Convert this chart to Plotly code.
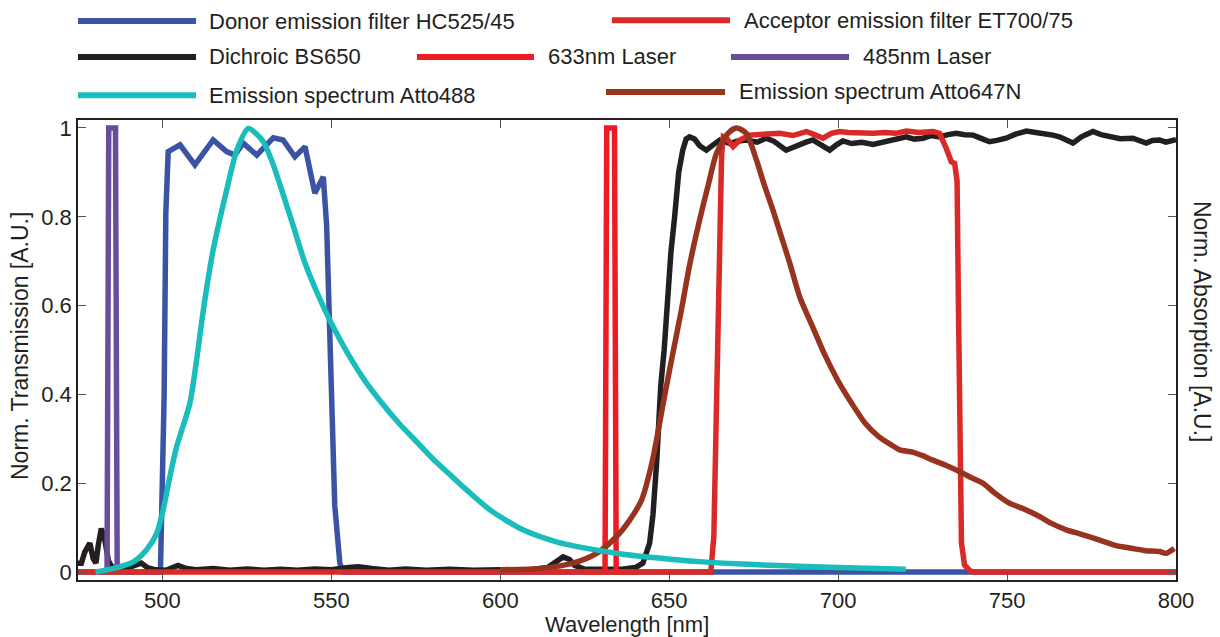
import plotly.graph_objects as go

# ---- spectra (wavelength in nm, normalised values) ----
donor_x = [475, 499.4, 500.5, 501.0, 501.7, 505.2, 509.6, 515.0, 519.0, 521.4, 523.9, 527.9,
           532.8, 535.7, 539.2, 542.2, 545.1, 547.6, 548.6, 549.5, 551.0, 552.5, 553.5, 800]
donor_y = [0, 0, 0.40, 0.81, 0.947, 0.962, 0.917, 0.973, 0.947, 0.939, 0.966, 0.939,
           0.978, 0.973, 0.935, 0.958, 0.853, 0.890, 0.78, 0.50, 0.15, 0.02, 0, 0]

dichroic_x = [475, 476, 477, 478.5, 479.5, 480.3, 481, 481.9, 483, 484, 485, 487, 490, 492, 493.7,
              495.5, 498, 501, 503, 504.6, 507, 510, 515, 520, 525, 530, 535, 540, 545, 550, 555,
              558, 562, 567, 572, 578, 585, 592, 600, 608, 614, 616, 618.6, 620.5, 622, 625, 630,
              636, 640, 642.2, 644.2, 645.2, 646.3, 647.5, 648.5, 649.5, 650.5, 651.6, 652.8, 654,
              655, 656, 657.5, 659, 661, 663, 665, 668, 670, 672.8, 676, 678.7, 681, 684.6, 686,
              688.6, 690.5, 692.5, 695, 697.5, 699.5, 701.4, 704, 707, 710.3, 714.2, 717, 720.2,
              722.5, 725.1, 727.5, 730, 732.5, 735, 737.5, 740, 742.5, 744.8, 747, 749.7, 752.5,
              755.7, 758.5, 761.6, 763.5, 765.5, 767.5, 769.5, 772, 775.4, 777.8, 780.3, 783.5,
              787.2, 789.2, 791.2, 793, 795.1, 797, 800]
dichroic_y = [0.02, 0.02, 0.045, 0.065, 0.03, 0.02, 0.06, 0.098, 0.07, 0.025, 0.012, 0.008, 0.01,
              0.015, 0.02, 0.01, 0.005, 0.004, 0.01, 0.015, 0.008, 0.005, 0.008, 0.004, 0.007,
              0.004, 0.006, 0.004, 0.007, 0.005, 0.01, 0.012, 0.008, 0.004, 0.007, 0.004, 0.006,
              0.004, 0.005, 0.004, 0.01, 0.022, 0.034, 0.028, 0.015, 0.006, 0.005, 0.006, 0.01,
              0.02, 0.065, 0.13, 0.25, 0.42, 0.50, 0.62, 0.72, 0.80, 0.90, 0.95, 0.975, 0.98,
              0.975, 0.96, 0.95, 0.962, 0.973, 0.965, 0.97, 0.973, 0.968, 0.977, 0.97, 0.95,
              0.955, 0.962, 0.968, 0.973, 0.96, 0.95, 0.962, 0.971, 0.965, 0.968, 0.963, 0.969,
              0.975, 0.98, 0.975, 0.977, 0.983, 0.98, 0.985, 0.988, 0.985, 0.984, 0.976, 0.969,
              0.972, 0.977, 0.986, 0.993, 0.99, 0.988, 0.984, 0.98, 0.972, 0.966, 0.98, 0.992,
              0.985, 0.98, 0.976, 0.977, 0.97, 0.966, 0.972, 0.973, 0.968, 0.974]

acceptor_x = [475, 662.3, 663.2, 664.0, 664.8, 665.5, 666.0, 667.2, 668.9, 670.9, 673.8, 678,
              682.7, 686.6, 688.5, 690.6, 693, 695.5, 698, 700.4, 703, 706, 710.3, 714, 717,
              720.2, 724, 728.1, 730, 732, 733.5, 734.5, 735.2, 735.6, 736.0, 736.5, 737.4, 739,
              740, 800]
acceptor_y = [0, 0, 0.08, 0.35, 0.75, 0.94, 0.98, 0.975, 0.958, 0.973, 0.984, 0.986,
              0.988, 0.983, 0.988, 0.992, 0.985, 0.977, 0.988, 0.992, 0.99, 0.988, 0.988, 0.99,
              0.988, 0.993, 0.99, 0.992, 0.988, 0.954, 0.924, 0.92, 0.88, 0.60, 0.30, 0.065,
              0.016, 0.003, 0, 0]

laser633_x = [625, 631.0, 631.5, 633.8, 634.3, 640]
laser633_y = [0, 0, 1, 1, 0, 0]

laser485_x = [483.6, 484.1, 486.1, 486.6]
laser485_y = [0, 1, 1, 0]

atto488_x = [480.2, 485.5, 491.4, 495.3, 498.3, 500.2, 502.2, 504.2, 508.1, 510.1, 512.1, 515.0,
             519.0, 522.0, 525.4, 529.8, 532.8, 536.7, 538.7, 542, 546, 550, 555, 560, 565, 570,
             575, 580, 585, 590, 596.9, 606.7, 616.6, 626.5, 636.3, 646.2, 656.1, 665.9, 680,
             700, 720]
atto488_y = [0.0, 0.008, 0.023, 0.05, 0.087, 0.14, 0.215, 0.282, 0.38, 0.477, 0.59, 0.725,
             0.86, 0.95, 0.999, 0.97, 0.917, 0.827, 0.78, 0.70, 0.625, 0.56, 0.49, 0.43, 0.38,
             0.335, 0.295, 0.255, 0.22, 0.185, 0.14, 0.095, 0.068, 0.052, 0.04, 0.032, 0.025,
             0.02, 0.015, 0.01, 0.006]

atto647n_x = [599.9, 611.7, 621.5, 628.5, 634.4, 638.3, 641.8, 645, 648.7, 651, 653.6, 656,
              659, 661.5, 664, 667.4, 669.9, 672.8, 675.8, 678, 680.7, 683, 685.7, 688.6, 692,
              696, 700, 704, 708, 712, 716, 718.2, 722, 725, 728, 732, 736, 739, 742.9, 746,
              750.7, 755, 759.6, 763, 767.5, 772, 777.4, 782, 787.2, 791, 795.1, 797, 799.5]
atto647n_y = [0.005, 0.008, 0.02, 0.042, 0.08, 0.117, 0.162, 0.25, 0.40, 0.49, 0.59, 0.69,
              0.793, 0.87, 0.943, 0.988, 1.0, 0.988, 0.928, 0.875, 0.815, 0.76, 0.695, 0.62, 0.56,
              0.49, 0.43, 0.38, 0.335, 0.305, 0.285, 0.275, 0.27, 0.262, 0.252, 0.24, 0.226, 0.214,
              0.20, 0.18, 0.155, 0.142, 0.125, 0.11, 0.095, 0.085, 0.072, 0.06, 0.053, 0.048,
              0.046, 0.042, 0.053]

# ---- styling ----
FONT = "Liberation Sans, Arial, Helvetica, sans-serif"
C_DONOR = "#3A53A4"
C_DICHROIC = "#231F20"
C_ACCEPTOR = "#D92A27"
C_L633 = "#ED1C24"
C_L485 = "#6A4C9C"
C_488 = "#1ABCBC"
C_647 = "#97331F"
LW = 5.5

# (label, x, y, colour, smooth)
series = [
    ("Donor emission filter HC525/45", donor_x, donor_y, C_DONOR, False),
    ("Dichroic BS650", dichroic_x, dichroic_y, C_DICHROIC, False),
    ("485nm Laser", laser485_x, laser485_y, C_L485, False),
    ("633nm Laser", laser633_x, laser633_y, C_L633, False),
    ("Acceptor emission filter ET700/75", acceptor_x, acceptor_y, C_ACCEPTOR, False),
    ("Emission spectrum Atto647N", atto647n_x, atto647n_y, C_647, True),
    ("Emission spectrum Atto488", atto488_x, atto488_y, C_488, True),
]

fig = go.Figure()
for name, xs, ys, col, smooth in series:
    line = dict(color=col, width=LW)
    if smooth:
        line.update(shape="spline", smoothing=0.7)
    fig.add_trace(go.Scatter(x=xs, y=ys, mode="lines", name=name, line=line,
                             showlegend=False))

# ---- legend block above the axes (paper coordinates) ----
legend_items = [
    # (label, colour, line x0, line x1, text x, y)
    ("Donor emission filter HC525/45", C_DONOR, 0.0, 0.1075, 0.1175, 1.215),
    ("Acceptor emission filter ET700/75", C_ACCEPTOR, 0.4863, 0.5938, 0.6047, 1.217),
    ("Dichroic BS650", C_DICHROIC, 0.0, 0.1075, 0.1175, 1.137),
    ("633nm Laser", C_L633, 0.3087, 0.4153, 0.4262, 1.137),
    ("485nm Laser", C_L485, 0.5947, 0.7022, 0.7131, 1.137),
    ("Emission spectrum Atto488", C_488, 0.0, 0.1075, 0.1175, 1.054),
    ("Emission spectrum Atto647N", C_647, 0.4809, 0.5893, 0.6002, 1.061),
]
shapes = []
annotations = []
for label, col, x0, x1, tx, y in legend_items:
    shapes.append(dict(type="line", xref="paper", yref="paper", x0=x0, x1=x1, y0=y, y1=y,
                       line=dict(color=col, width=6)))
    annotations.append(dict(text=label, xref="paper", yref="paper", x=tx, y=y,
                            xanchor="left", yanchor="middle", showarrow=False,
                            font=dict(family=FONT, size=22, color="#231F20")))

# axis titles
annotations.append(dict(text="Wavelength [nm]", xref="paper", yref="paper", x=0.5, y=-0.097,
                        xanchor="center", yanchor="middle", showarrow=False,
                        font=dict(family=FONT, size=22, color="#231F20")))
annotations.append(dict(text="Norm. Transmission [A.U.]", xref="paper", yref="paper",
                        x=-0.0528, y=0.5087, textangle=-90, xanchor="center",
                        yanchor="middle", showarrow=False,
                        font=dict(family=FONT, size=23, color="#231F20")))
annotations.append(dict(text="Norm. Absorption [A.U.]", xref="paper", yref="paper",
                        x=1.0237, y=0.561, textangle=90, xanchor="center",
                        yanchor="middle", showarrow=False,
                        font=dict(family=FONT, size=23, color="#231F20")))

axis_common = dict(showline=True, linecolor="#231F20", linewidth=1.5, mirror="ticks",
                   ticks="inside", ticklen=8, tickwidth=1, tickcolor="#555555",
                   showgrid=False, zeroline=False,
                   tickfont=dict(family=FONT, size=22, color="#231F20"))

fig.update_layout(
    width=1220, height=637,
    margin=dict(l=78, r=44, t=120, b=57),
    paper_bgcolor="white", plot_bgcolor="white",
    xaxis=dict(range=[475, 800], tickvals=[500, 550, 600, 650, 700, 750, 800],
               ticktext=["500", "550", "600", "650", "700", "750", "800"], **axis_common),
    yaxis=dict(range=[-0.018, 1.018], tickvals=[0, 0.2, 0.4, 0.6, 0.8, 1],
               ticktext=["0", "0.2", "0.4", "0.6", "0.8", "1"], **axis_common),
    shapes=shapes,
    annotations=annotations,
    showlegend=False,
)

fig.write_html("out.html")
